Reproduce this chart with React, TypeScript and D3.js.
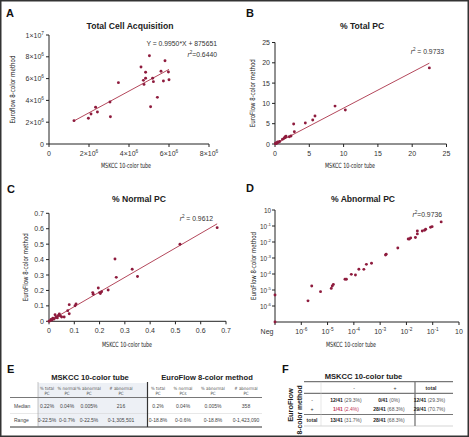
import React from 'react';
import * as d3 from 'd3';

// ---------- Panel A: Total Cell Acquisition ----------
const aX = [1.25e6, 1.97e6, 2.1e6, 2.33e6, 2.42e6, 3.05e6, 3.07e6, 3.47e6, 4.6e6, 4.72e6, 4.75e6, 4.83e6, 4.83e6, 5.02e6, 5.08e6, 5.18e6, 5.22e6, 5.42e6, 5.6e6, 5.72e6, 5.8e6, 5.97e6, 6.0e6];
const aY = [2.14e6, 2.36e6, 2.75e6, 3.37e6, 2.94e6, 3.85e6, 2.5e6, 5.63e6, 7.06e6, 5.84e6, 5.47e6, 6.58e6, 6.03e6, 8.1e6, 3.42e6, 6.03e6, 5.72e6, 4.28e6, 6.67e6, 5.78e6, 7.64e6, 6.6e6, 5.9e6];
const aSlope = 0.995;
const aIntercept = 875651;
const aXTicks = [0, 2e6, 4e6, 6e6, 8e6];
const aXTickLabels = ['0', '2×10^6', '4×10^6', '6×10^6', '8×10^6'];
const aYTicks = [0, 2e6, 4e6, 6e6, 8e6, 1e7];
const aYTickLabels = ['0', '2×10^6', '4×10^6', '6×10^6', '8×10^6', '1×10^7'];

// ---------- Panel B: % Total PC ----------
const bX = [22.5, 8.75, 10.25, 5.83, 5.5, 4.42, 2.72, 2.82, 2.33, 2.09, 1.56, 1.36, 1.46, 1.6, 1.1, 0.7, 0.5, 0.35, 0.25, 0.15, 0.1, 0.05, 0.4, 0.2];
const bY = [18.75, 9.34, 8.36, 6.88, 5.9, 5.16, 4.92, 3.03, 1.97, 1.8, 1.8, 1.47, 1.65, 1.9, 1.2, 0.6, 0.45, 0.3, 0.35, 0.1, 0.2, 0.05, 0.5, 0.15];
const bSlope = 0.885;
const bIntercept = 0;
const bTicks = [0, 5, 10, 15, 20, 25];
const bTickLabels = ['0', '5', '10', '15', '20', '25'];

// ---------- Panel C: % Normal PC ----------
const cX = [0.665, 0.518, 0.261, 0.329, 0.266, 0.35, 0.195, 0.173, 0.175, 0.2, 0.203, 0.234, 0.208, 0.08, 0.103, 0.107, 0.074, 0.08, 0.05, 0.041, 0.037, 0.03, 0.024, 0.027, 0.015, 0.008, 0.004, 0.0, 0.012, 0.02, 0.033, 0.045, 0.06];
const cY = [0.607, 0.499, 0.404, 0.337, 0.285, 0.29, 0.216, 0.186, 0.175, 0.186, 0.18, 0.203, 0.192, 0.108, 0.101, 0.112, 0.069, 0.049, 0.028, 0.047, 0.038, 0.03, 0.042, 0.025, 0.02, 0.012, 0.003, 0.0, 0.008, 0.015, 0.022, 0.035, 0.028];
const cSlope = 0.95;
const cIntercept = 0;
const cTicks = [0, 0.1, 0.2, 0.3, 0.4, 0.5, 0.6, 0.7];
const cTickLabels = ['0', '0.1', '0.2', '0.3', '0.4', '0.5', '0.6', '0.7'];

// ---------- Panel D: % Abnormal PC (0 = Neg) ----------
const dX = [0.21, 0.095, 0.083, 0.054, 0.049, 0.04, 0.026, 0.026, 0.022, 0.0145, 0.013, 0.0117, 0.0047, 0.0017, 0.0016, 0.00047, 0.0003, 0.00024, 0.000155, 0.000115, 0.00008, 0.000052, 0.000046, 0.0000166, 0.0000151, 0.0000138, 0.0000054, 0.0000025, 0.0000018, 0, 0];
const dY = [0.18, 0.091, 0.083, 0.062, 0.054, 0.049, 0.049, 0.032, 0.019, 0.018, 0.0155, 0.0155, 0.0042, 0.0017, 0.00155, 0.00047, 0.0004, 0.000195, 0.0002, 0.000087, 0.000095, 0.000047, 0.000047, 0.0000224, 0.0000178, 0.0000126, 0.0000079, 0.0000178, 0.0000021, 0.0000049, 0];
const dXTicks = [0, 1e-6, 1e-5, 1e-4, 1e-3, 1e-2, 1e-1, 1];
const dXTickLabels = ['Neg', '10^-6', '10^-5', '10^-4', '10^-3', '10^-2', '10^-1', '10'];
const dYTicks = [1, 1e-1, 1e-2, 1e-3, 1e-4, 1e-5, 1e-6];
const dYTickLabels = ['10', '10^-1', '10^-2', '10^-3', '10^-4', '10^-5', '10^-6'];

// ---------- Panel E table ----------
const eGroups = ['MSKCC 10-color tube', 'EuroFlow 8-color method'];
const eColHeaders = [['% total', 'PC'], ['% normal', 'PC'], ['% abnormal', 'PC'], ['# abnormal', 'PC'], ['% total', 'PC'], ['% normal', 'PCs'], ['% abnormal', 'PC'], ['# abnormal', 'PC']];
const eRowLabels = ['Median', 'Range'];
const eMedian = ['0.22%', '0.04%', '0.005%', '216', '0.2%', '0.04%', '0.005%', '358'];
const eRange = ['0-22.5%', '0-0.7%', '0-22.5%', '0-1,305,501', '0-18.8%', '0-0.6%', '0-18.8%', '0-1,423,090'];

// ---------- Panel F table ----------
const fTitle = 'MSKCC 10-color tube';
const fColHeaders = ['-', '+', 'total'];
const fRowLabels = ['-', '+', 'total'];
const fCounts = [['12/41', '0/41', '12/41'], ['1/41', '28/41', '29/41'], ['13/41', '28/41', '']];
const fPercents = [['(29.3%)', '(0%)', '(29.3%)'], ['(2.4%)', '(68.3%)', '(70.7%)'], ['(31.7%)', '(68.3%)', '']];

const DOT = '#8e1b3d';
const FIT = '#b4485c';
const AX = '#222';
const SANS = "'Liberation Sans', Arial, Helvetica, sans-serif";
const NARROW = "'Liberation Sans Narrow', 'DejaVu Sans Condensed', 'Liberation Sans', sans-serif";

function Sup({ s, x, y, anchor, size, fill = '#333' }: any) {
  const [base, exp] = s.split('^');
  return (
    <text x={x} y={y} textAnchor={anchor} fontSize={size} fill={fill}>
      {base}
      {exp !== undefined && (
        <tspan dy={-size * 0.42} fontSize={size * 0.68}>{exp}</tspan>
      )}
    </text>
  );
}

function R2({ x, y, text, anchor = 'end' }: any) {
  return (
    <text x={x} y={y} textAnchor={anchor} fontSize={6.8} fill="#333">
      <tspan fontStyle="italic">r</tspan>
      <tspan dy={-2.6} fontSize={4.6}>2</tspan>
      <tspan dy={2.6}>{text}</tspan>
    </text>
  );
}

function Panel(p: any) {
  const { fx, fy, xr, yr, xTicks, xLabels, yTicks, yLabels, xs, ys, fit, letter, lx, ly, title, tx, ty, xTitleX, xTitleY, yTitle, yTitleX, negOffset, yTickSize = 7, yTickGap = 5 } = p;
  const [x0, x1] = xr;
  const [y0, y1] = yr;
  return (
    <g>
      <text x={lx} y={ly} fontWeight="bold" fontSize={11} fill="#111">{letter}</text>
      <text x={tx} y={ty} textAnchor="middle" fontWeight="bold" fontSize={8.6} fill="#222">{title}</text>
      {fit && (
        <line x1={fx(fit.from)} y1={fy(fit.slope * fit.from + fit.intercept)} x2={fx(fit.to)} y2={fy(fit.slope * fit.to + fit.intercept)} stroke={FIT} strokeWidth={1} />
      )}
      <line x1={x0} x2={x0} y1={y0} y2={y1} stroke={AX} strokeWidth={1} />
      <line x1={x0} x2={x1} y1={y0} y2={y0} stroke={AX} strokeWidth={1} />
      {yTicks.map((t: number, i: number) => (
        <g key={'yt' + i}>
          <line x1={x0 - 3} x2={x0} y1={fy(t)} y2={fy(t)} stroke={AX} strokeWidth={1} />
          <Sup s={yLabels[i]} x={x0 - yTickGap} y={fy(t) + 2.5} anchor="end" size={yTickSize} />
        </g>
      ))}
      {xTicks.map((t: number, i: number) => (
        <g key={'xt' + i}>
          <line x1={fx(t)} x2={fx(t)} y1={y0} y2={y0 + 3} stroke={AX} strokeWidth={1} />
          <Sup s={xLabels[i]} x={fx(t) - (t <= 0 && negOffset ? negOffset : 0)} y={y0 + 11.5} anchor="middle" size={7} />
        </g>
      ))}
      {xs.map((v: number, i: number) => (
        <circle key={'p' + i} cx={fx(v)} cy={fy(ys[i])} r={1.45} fill={DOT} />
      ))}
      <text x={xTitleX} y={xTitleY} textAnchor="middle" fontSize={7.2} fontFamily={NARROW} fill="#222" textLength={50} lengthAdjust="spacingAndGlyphs">MSKCC 10-color tube</text>
      <text transform={`translate(${yTitleX},${(y0 + y1) / 2}) rotate(-90)`} textAnchor="middle" fontSize={7.2} fontFamily={NARROW} fill="#222" textLength={68} lengthAdjust="spacingAndGlyphs">{yTitle}</text>
    </g>
  );
}

export default function App() {
  const ax = d3.scaleLinear().domain([0, 8e6]).range([49, 209]);
  const ay = d3.scaleLinear().domain([0, 1e7]).range([144, 35]);
  const bx = d3.scaleLinear().domain([0, 25]).range([275, 446.5]);
  const by = d3.scaleLinear().domain([0, 25]).range([144, 42.5]);
  const cx = d3.scaleLinear().domain([0, 0.7]).range([49, 226]);
  const cy = d3.scaleLinear().domain([0, 0.7]).range([321.3, 213.3]);
  const NEG = 1e-7;
  const dxs = d3.scaleLog().domain([NEG, 1]).range([275, 459]);
  const dys = d3.scaleLog().domain([NEG, 1]).range([322, 210]);
  const dx = (v: number) => dxs(v <= 0 ? NEG : v);
  const dy = (v: number) => dys(v <= 0 ? NEG : v);

  const eCols = [47, 67, 89, 121, 158, 183, 213, 246];
  const fCols = [346, 389, 429.5];
  const fHeadX = [354, 395, 431];
  const fRows = [402, 410.8, 421.5];

  return (
    <svg width={469} height={437} style={{ position: 'absolute', left: 0, top: 0 }} fontFamily={SANS}>
      <rect x={0} y={0} width={469} height={437} fill="#fff" />
      <rect x={0.75} y={0.75} width={467.5} height={435.5} fill="none" stroke="#333" strokeWidth={1.5} />

      <Panel fx={ax} fy={ay} xr={ax.range()} yr={ay.range()} xTicks={aXTicks} xLabels={aXTickLabels} yTicks={aYTicks} yLabels={aYTickLabels}
        xs={aX} ys={aY} fit={{ slope: aSlope, intercept: aIntercept, from: d3.min(aX), to: d3.max(aX) }}
        letter="A" lx={6} ly={17} title="Total Cell Acquisition" tx={130} ty={29} xTitleX={126} xTitleY={168} yTitle="Euroflow 8-color method" yTitleX={15} />
      <text x={217} y={46} textAnchor="end" fontSize={6.8} fill="#333">Y = 0.9950*X + 875651</text>
      <R2 x={217} y={57} text="=0.6440" />

      <Panel fx={bx} fy={by} xr={bx.range()} yr={by.range()} xTicks={bTicks} xLabels={bTickLabels} yTicks={bTicks} yLabels={bTickLabels}
        xs={bX} ys={bY} fit={{ slope: bSlope, intercept: bIntercept, from: 0, to: d3.max(bX) }}
        letter="B" lx={246} ly={17} title="% Total PC" tx={362} ty={28.5} xTitleX={350} xTitleY={168} yTitle="EuroFlow 8-color method" yTitleX={254.5} />
      <R2 x={444} y={54} text=" = 0.9733" />

      <Panel fx={cx} fy={cy} xr={cx.range()} yr={cy.range()} xTicks={cTicks} xLabels={cTickLabels} yTicks={cTicks} yLabels={cTickLabels}
        xs={cX} ys={cY} fit={{ slope: cSlope, intercept: cIntercept, from: 0, to: d3.max(cX) }}
        letter="C" lx={7} ly={193} title="% Normal PC" tx={139} ty={202} xTitleX={127} xTitleY={346.5} yTitle="EuroFlow 8-color method" yTitleX={27.5} />
      <R2 x={213} y={220.5} text=" = 0.9612" />

      <Panel fx={dx} fy={dy} xr={dxs.range()} yr={dys.range()} xTicks={dXTicks} xLabels={dXTickLabels} yTicks={dYTicks} yLabels={dYTickLabels}
        xs={dX} ys={dY} fit={null} negOffset={8} yTickSize={6.4} yTickGap={4}
        letter="D" lx={246} ly={192} title="% Abnormal PC" tx={363} ty={202} xTitleX={351} xTitleY={346.5} yTitle="EuroFlow 8-color method" yTitleX={256} />
      <R2 x={442} y={216.5} text="=0.9736" />

      {/* ---------- E ---------- */}
      <text x={7} y={373} fontWeight="bold" fontSize={11} fill="#111">E</text>
      <rect x={38} y={383} width={109.5} height={44} fill="#edf0f5" />
      <text x={90} y={379.5} textAnchor="middle" fontWeight="bold" fontSize={7.6} fill="#222">{eGroups[0]}</text>
      <text x={207} y={379.5} textAnchor="middle" fontWeight="bold" fontSize={7.6} fill="#222">{eGroups[1]}</text>
      {eColHeaders.map((h, i) => (
        <text key={'eh' + i} x={eCols[i]} textAnchor="middle" fontSize={4.4} fontFamily={NARROW} fill="#555">
          <tspan x={eCols[i]} y={390}>{h[0]}</tspan>
          <tspan x={eCols[i]} y={395.3}>{h[1]}</tspan>
        </text>
      ))}
      <line x1={10} x2={262} y1={397.5} y2={397.5} stroke="#555" strokeWidth={0.8} />
      <line x1={10} x2={262} y1={413.5} y2={413.5} stroke="#d0d0d0" strokeWidth={0.5} />
      <line x1={10} x2={262} y1={427} y2={427} stroke="#333" strokeWidth={1} />
      <line x1={38} x2={38} y1={382} y2={427} stroke="#888" strokeWidth={0.5} />
      <line x1={147.5} x2={147.5} y1={382} y2={427} stroke="#333" strokeWidth={1.2} />
      {eRowLabels.map((r, i) => (
        <text key={'er' + i} x={14} y={i === 0 ? 407.5 : 421.5} fontSize={5} fill="#444">{r}</text>
      ))}
      {eMedian.map((v, i) => (
        <text key={'em' + i} x={eCols[i]} y={407.5} textAnchor="middle" fontSize={5} fill="#444">{v}</text>
      ))}
      {eRange.map((v, i) => (
        <text key={'eg' + i} x={eCols[i]} y={421.5} textAnchor="middle" fontSize={5} fill="#444">{v}</text>
      ))}

      {/* ---------- F ---------- */}
      <text x={282} y={373} fontWeight="bold" fontSize={11} fill="#111">F</text>
      <text x={363.5} y={379} textAnchor="middle" fontWeight="bold" fontSize={7.6} fill="#222">{fTitle}</text>
      <text transform="translate(293,405) rotate(-90)" textAnchor="middle" fontWeight="bold" fontSize={7.4} fill="#222">EuroFlow</text>
      <text transform="translate(301.5,410) rotate(-90)" textAnchor="middle" fontWeight="bold" fontSize={6.8} fill="#222">8-color method</text>
      <line x1={304} x2={453} y1={381.7} y2={381.7} stroke="#777" strokeWidth={1.2} />
      <line x1={304} x2={453} y1={393.3} y2={393.3} stroke="#777" strokeWidth={1.2} />
      <line x1={304} x2={453} y1={414.5} y2={414.5} stroke="#777" strokeWidth={1.2} />
      <line x1={304} x2={453} y1={426} y2={426} stroke="#bbb" strokeWidth={0.6} />
      <line x1={321} x2={321} y1={381.7} y2={426} stroke="#ccc" strokeWidth={0.5} />
      <line x1={415} x2={415} y1={381.7} y2={426} stroke="#777" strokeWidth={1.3} />
      {fColHeaders.map((h, i) => (
        <text key={'fh' + i} x={fHeadX[i]} y={389.8} textAnchor="middle" fontSize={5.2} fontWeight={i === 2 ? 'bold' : 'normal'} fill="#333">{h}</text>
      ))}
      {fRowLabels.map((r, i) => (
        <text key={'fr' + i} x={312} y={fRows[i]} textAnchor="middle" fontSize={5.2} fontWeight={i === 2 ? 'bold' : 'normal'} fill="#333">{r}</text>
      ))}
      {fCounts.map((row, ri) => row.map((c, ci) => c === '' ? null : (
        <text key={'fc' + ri + ci} x={fCols[ci]} y={fRows[ri]} textAnchor="middle" fontSize={5} fill={ri === 1 && ci === 0 ? '#c2385a' : '#555'}>
          <tspan fontWeight="bold" fill={ri === 1 && ci === 0 ? '#c2385a' : '#222'}>{c}</tspan>
          <tspan> {fPercents[ri][ci]}</tspan>
        </text>
      )))}
    </svg>
  );
}
